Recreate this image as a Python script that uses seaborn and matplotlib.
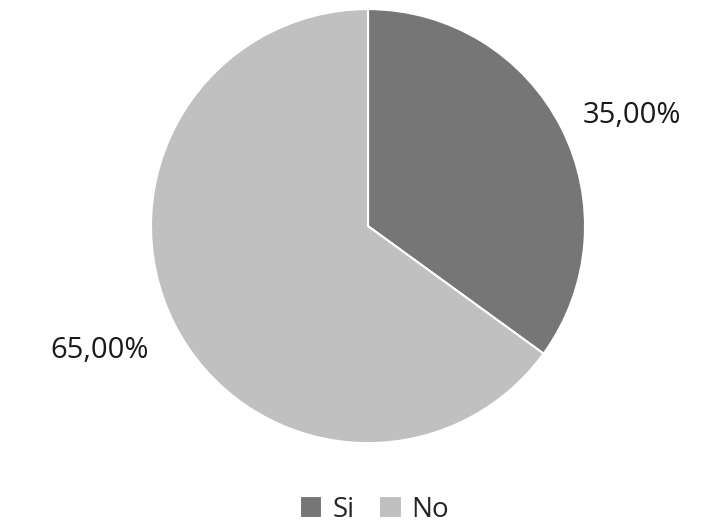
import matplotlib
matplotlib.use("Agg")
import matplotlib.pyplot as plt
import seaborn as sns

labels = ["Si", "No"]
values = [35.0, 65.0]
colors = ["#767676", "#c0c0c0"]

sns.set_theme(style="white")
plt.rcParams['font.family'] = ['Open Sans', 'DejaVu Sans']

fig = plt.figure(figsize=(7.04, 5.32), dpi=100)
ax = fig.add_axes([0.2145, 0.1671, 0.6165, 0.8158])

wedges, texts, autotexts = ax.pie(
    values, colors=colors, startangle=90, counterclock=False,
    autopct=lambda p: f"{p:.2f}%".replace(".", ","), pctdistance=1.34,
    wedgeprops=dict(edgecolor="white", linewidth=1.5),
    textprops=dict(fontsize=21, color="#1a1a1a"))
# nudge the percentage labels to where the original puts them
autotexts[0].set_position((1.215, 0.51))
autotexts[1].set_position((-1.235, -0.575))
ax.set_xlim(-1, 1)
ax.set_ylim(-1, 1)
ax.set_aspect("equal")

fig.legend(wedges, labels, loc="center", bbox_to_anchor=(0.532, 0.042),
           ncol=2, frameon=False, fontsize=20, handlelength=0.8,
           handleheight=0.8, handletextpad=0.35, columnspacing=0.9)

fig.savefig("out.png", dpi=100, facecolor="white")
